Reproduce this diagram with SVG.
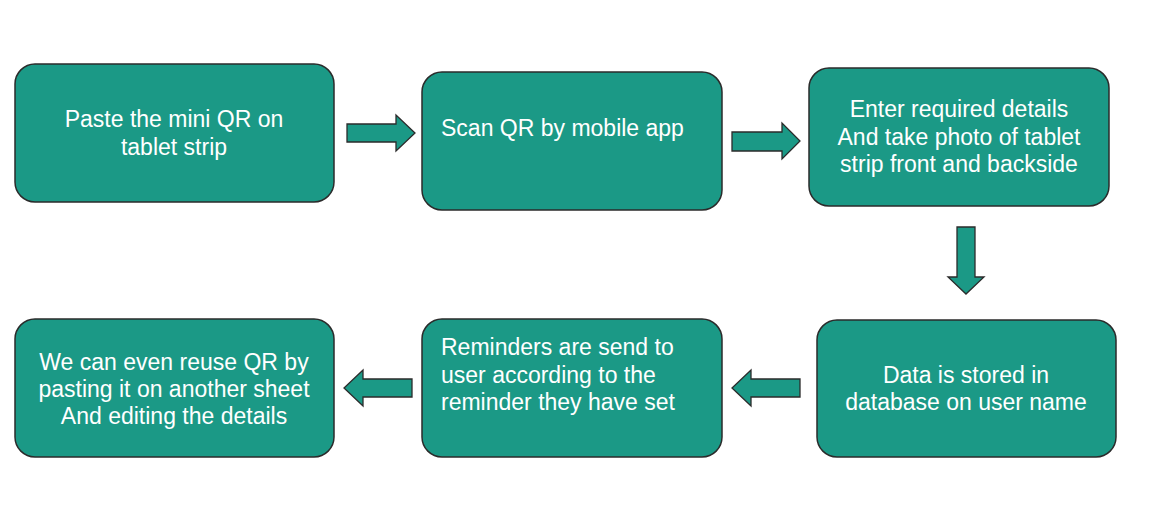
<svg xmlns="http://www.w3.org/2000/svg" width="1152" height="522" viewBox="0 0 1152 522">
<style>
.box{fill:#1b9986;stroke:#2b2b2b;stroke-width:1.5}
.arr{fill:#1b9986;stroke:#2b2b2b;stroke-width:1.3}
text{font-family:"Liberation Sans",Arial,sans-serif;font-size:23px;fill:#ffffff}
.c{text-anchor:middle}
</style>
<rect width="1152" height="522" fill="#ffffff"/>
<g id="n1"><rect class="box" x="15" y="64" width="319" height="138" rx="20"/>
<text class="c" x="174" y="127">Paste the mini QR on</text>
<text class="c" x="174" y="155">tablet strip</text></g>
<g id="n2"><rect class="box" x="422" y="72" width="300" height="138" rx="20"/>
<text x="441" y="136">Scan QR by mobile app</text></g>
<g id="n3"><rect class="box" x="809" y="68" width="300" height="138" rx="20"/>
<text class="c" x="959" y="117">Enter required details</text>
<text class="c" x="959" y="145">And take photo of tablet</text>
<text class="c" x="959" y="172">strip front and backside</text></g>
<g id="n4"><rect class="box" x="817" y="320" width="299" height="137" rx="20"/>
<text class="c" x="966" y="383">Data is stored in</text>
<text class="c" x="966" y="410">database on user name</text></g>
<g id="n5"><rect class="box" x="422" y="319" width="300" height="138" rx="20"/>
<text x="441" y="355">Reminders are send to</text>
<text x="441" y="383">user according to the</text>
<text x="441" y="410">reminder they have set</text></g>
<g id="n6"><rect class="box" x="15" y="319" width="319" height="138" rx="20"/>
<text class="c" x="174" y="370">We can even reuse QR by</text>
<text class="c" x="174" y="397">pasting it on another sheet</text>
<text class="c" x="174" y="424">And editing the details</text></g>
<g id="connectors">
<polygon class="arr" points="347,124 396,124 396,115 415,133 396,151 396,142 347,142"/>
<polygon class="arr" points="732,132 782,132 782,123 800,141 782,159 782,151 732,151"/>
<polygon class="arr" points="957,227 975,227 975,277 984,277 966,294 948,277 957,277"/>
<polygon class="arr" points="800,379 751,379 751,370 732,388 751,406 751,397 800,397"/>
<polygon class="arr" points="412,379 363,379 363,370 344,388 363,406 363,397 412,397"/>
</g>
</svg>
